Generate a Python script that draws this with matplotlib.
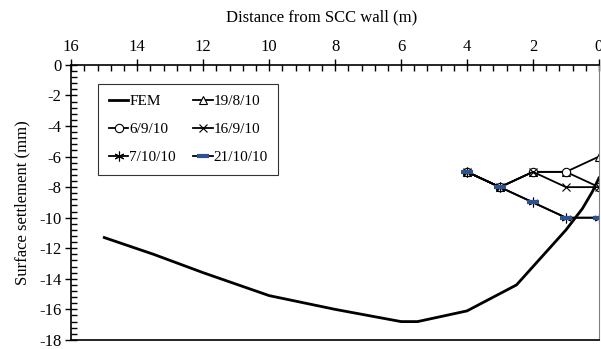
# surface settlement vs distance from SCC wall
import matplotlib.pyplot as plt
from matplotlib.ticker import MultipleLocator

plt.rcParams['font.family'] = ['Liberation Serif', 'DejaVu Serif']
plt.rcParams['font.size'] = 12
plt.rcParams['axes.unicode_minus'] = False

# FEM curve
fem_x = [15, 13.5, 12, 10, 8, 6, 5.5, 4, 2.5, 2, 1, 0.5, 0.2, 0]
fem_y = [-11.3, -12.4, -13.6, -15.1, -16.0, -16.8, -16.8, -16.1, -14.4, -13.2, -10.8, -9.4, -8.3, -7.4]

# field measurements
meas_x = [4, 3, 2, 1, 0]
d19_8 = [-7, -8, -7, -7, -6]
d6_9 = [-7, -8, -7, -7, -8]
d16_9 = [-7, -8, -7, -8, -8]
d7_10 = [-7, -8, -9, -10, -10]
d21_10 = [-7, -8, -9, -10, -10]

fig = plt.figure(figsize=(6.01, 3.49), dpi=100)
ax = fig.add_axes([0.1186, 0.026, 0.878, 0.788])

h_fem, = ax.plot(fem_x, fem_y, color='black', lw=2, label='FEM')
h1, = ax.plot(meas_x, d19_8, color='black', lw=1.3, marker='^', ms=6, mfc='white', mec='black', mew=0.8, label='19/8/10')
h2, = ax.plot(meas_x, d6_9, color='black', lw=1.3, marker='o', ms=6, mfc='white', mec='black', mew=0.8, label='6/9/10')
h3, = ax.plot(meas_x, d16_9, color='black', lw=1.3, marker='x', ms=6, mec='black', mew=0.8, label='16/9/10')
h4, = ax.plot(meas_x, d7_10, color='black', lw=1.3, marker=(6, 2, 0), ms=7, mec='black', mew=0.8, label='7/10/10')
h5, = ax.plot(meas_x, d21_10, color='black', lw=1.3, marker='_', ms=8, mec='#2d5490', mew=3, label='21/10/10')

ax.set_xlim(16, 0)
ax.set_ylim(-18, 0)
ax.xaxis.set_major_locator(MultipleLocator(2))
ax.xaxis.set_minor_locator(MultipleLocator(0.4))
ax.yaxis.set_major_locator(MultipleLocator(2))
ax.yaxis.set_minor_locator(MultipleLocator(0.4))
ax.xaxis.tick_top()
ax.xaxis.set_label_position('top')
ax.tick_params(which='major', direction='inout', length=8, width=1, colors='black', pad=3)
ax.tick_params(which='minor', direction='in', length=4, width=1)
ax.tick_params(axis='x', which='both', bottom=False)
ax.tick_params(axis='y', which='both', right=False)
ax.set_xlabel('Distance from SCC wall (m)', labelpad=7)
ax.xaxis.set_label_coords(0.475, 1.16)
ax.set_ylabel('Surface settlement (mm)', labelpad=6)

for s in ['left', 'top', 'bottom']:
    ax.spines[s].set_linewidth(1.2)
ax.spines['right'].set_color('#808080')

# legend filled row by row like the original
handles = [h_fem, h2, h4, h1, h3, h5]
leg = ax.legend(handles=handles, labels=[h.get_label() for h in handles], ncol=2,
                loc='upper left', bbox_to_anchor=(0.036, 0.96), frameon=True,
                fancybox=False, edgecolor='black', handlelength=1.3, handletextpad=0.05,
                columnspacing=1.1, labelspacing=0.95, borderpad=0.7, fontsize=11)
leg.get_frame().set_linewidth(0.8)

fig.savefig('out.png', dpi=100)
